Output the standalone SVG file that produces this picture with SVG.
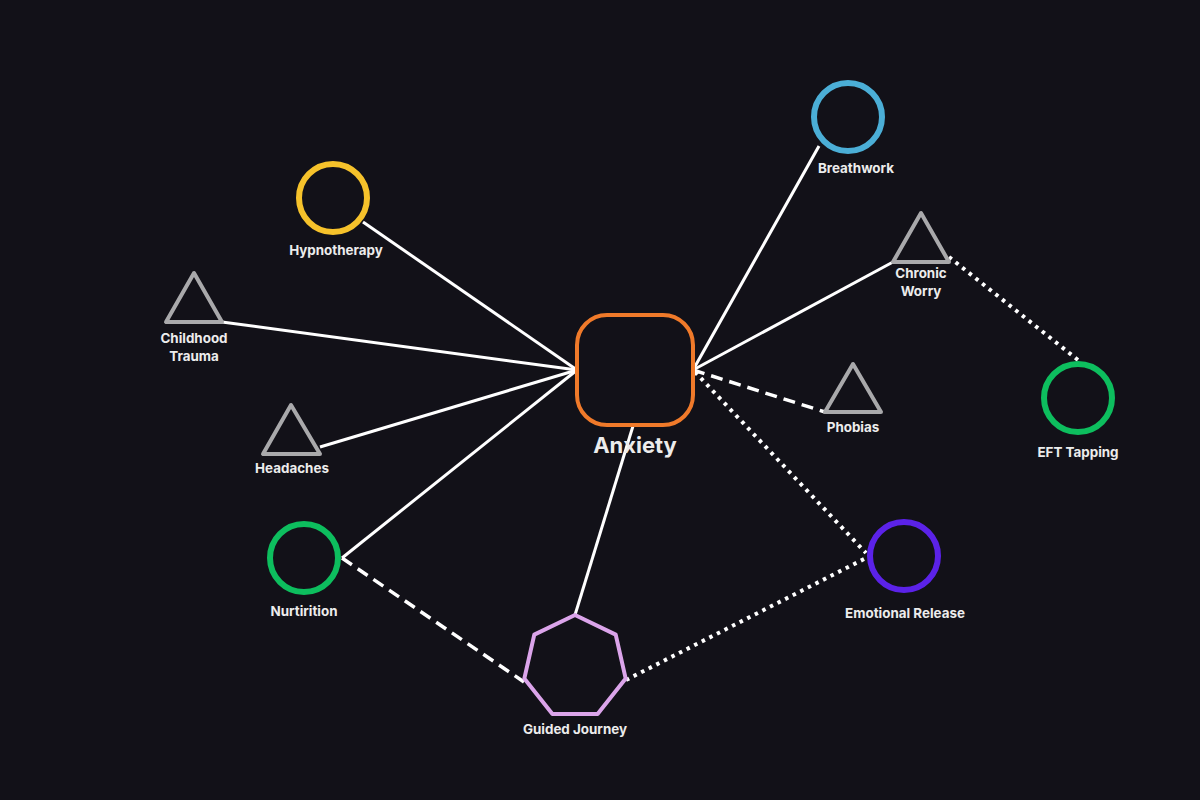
<svg xmlns="http://www.w3.org/2000/svg" width="1200" height="800" viewBox="0 0 1200 800">
<style>
.lbl{font-family:Inter,"Open Sans","Liberation Sans",sans-serif;font-weight:700;font-size:13.4px;fill:#ECECEC;text-anchor:middle}
.big{font-size:22px}
.ln{stroke:#FFFFFF;stroke-width:3;fill:none;stroke-linecap:butt}
.dash{stroke-dasharray:12 7;stroke-width:3.5}
.dot{stroke-dasharray:3.5 5;stroke-width:4}
.tri{fill:none;stroke:#A9A9AB;stroke-width:4;stroke-linejoin:round}
.cir{fill:none;stroke-width:6}
</style>
<rect width="1200" height="800" fill="#121118"/>
<g id="connectors">
<line class="ln" x1="363" y1="222" x2="577" y2="370"/>
<line class="ln" x1="222" y1="322" x2="577" y2="370"/>
<line class="ln" x1="320" y1="447" x2="577" y2="370"/>
<line class="ln" x1="342" y1="558" x2="577" y2="370"/>
<line class="ln" x1="633" y1="426" x2="575" y2="615"/>
<line class="ln" x1="693" y1="370" x2="819" y2="146"/>
<line class="ln" x1="693" y1="370" x2="893" y2="262"/>
<line class="ln dash" x1="693" y1="370" x2="825" y2="412"/>
<line class="ln dot" x1="695" y1="372" x2="866" y2="553"/>
<line class="ln dot" x1="949" y1="257" x2="1078" y2="360"/>
<line class="ln dash" x1="342" y1="558" x2="524" y2="682"/>
<line class="ln dot" x1="626" y1="680" x2="866" y2="558"/>
</g>
<g id="anxiety">
<rect x="577" y="315" width="116" height="110" rx="30" fill="none" stroke="#F07A2A" stroke-width="4"/>
<text class="lbl big" x="635" y="453">Anxiety</text>
</g>
<g id="hypnotherapy">
<circle class="cir" cx="333" cy="198" r="34" stroke="#F6C22B"/>
<text class="lbl" x="336" y="255">Hypnotherapy</text>
</g>
<g id="childhood-trauma">
<path class="tri" d="M194 273 L166 322 L222 322 Z"/>
<text class="lbl" x="194" y="343">Childhood</text>
<text class="lbl" x="194" y="361">Trauma</text>
</g>
<g id="headaches">
<path class="tri" d="M291 405 L263 454 L320 454 Z"/>
<text class="lbl" x="292" y="473">Headaches</text>
</g>
<g id="nurtirition">
<circle class="cir" cx="304" cy="558" r="34" stroke="#0DBE5E"/>
<text class="lbl" x="304" y="616">Nurtirition</text>
</g>
<g id="guided-journey">
<polygon fill="none" stroke="#DBA4EA" stroke-width="4" stroke-linejoin="round" points="575,615 615.7,634.6 625.7,678.6 597.6,713.9 552.4,713.9 524.3,678.6 534.3,634.6"/>
<text class="lbl" x="575" y="734">Guided Journey</text>
</g>
<g id="emotional-release">
<circle class="cir" cx="904" cy="556" r="34" stroke="#5B22E8"/>
<text class="lbl" x="905" y="618">Emotional Release</text>
</g>
<g id="phobias">
<path class="tri" d="M853 364 L825 412 L881 412 Z"/>
<text class="lbl" x="853" y="432">Phobias</text>
</g>
<g id="chronic-worry">
<path class="tri" d="M921 213 L893 262 L949 262 Z"/>
<text class="lbl" x="921" y="278">Chronic</text>
<text class="lbl" x="921" y="296">Worry</text>
</g>
<g id="eft-tapping">
<circle class="cir" cx="1078" cy="398" r="34" stroke="#0DBE5E"/>
<text class="lbl" x="1078" y="457">EFT Tapping</text>
</g>
<g id="breathwork">
<circle class="cir" cx="848" cy="117" r="34" stroke="#4BAED6"/>
<text class="lbl" x="856" y="173">Breathwork</text>
</g>
</svg>
